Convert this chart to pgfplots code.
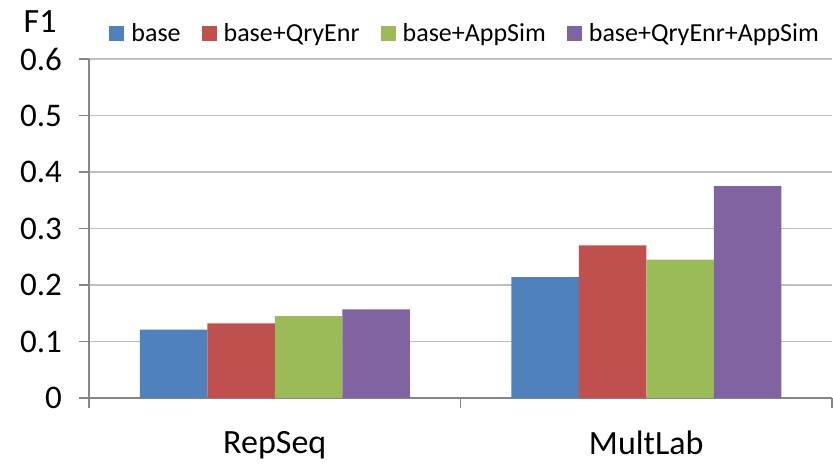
\documentclass[border=0pt]{standalone}
\usepackage{pgfplots}
\pgfplotsset{compat=1.18}
\usepackage{fontspec}
\setmainfont{Carlito}

\definecolor{cblue}{HTML}{4F81BD}
\definecolor{cred}{HTML}{C0504D}
\definecolor{cgreen}{HTML}{9BBB59}
\definecolor{cpurple}{HTML}{8064A2}
\definecolor{gridc}{HTML}{BFBFBF}
\definecolor{axisc}{HTML}{868686}

% x: 0 = RepSeq, 1 = MultLab
\pgfplotstableread{
x  base   qry    app    both
0  0.121  0.132  0.145  0.157
1  0.214  0.270  0.245  0.375
}\fone

\begin{document}
\begin{tikzpicture}
\begin{axis}[
    name=ax,
    scale only axis,
    width=371.5pt, height=169.5pt,
    xmin=-0.5, xmax=1.5,
    ymin=0, ymax=0.6,
    ytick={0,0.1,...,0.6},
    yticklabels={0,0.1,0.2,0.3,0.4,0.5,0.6},
    xtick={0,1},
    xticklabels={RepSeq,MultLab},
    minor xtick={-0.5,0.5,1.5},
    major x tick style={draw=none},
    minor x tick style={draw=axisc, line width=0.75pt},
    minor tick length=5pt,
    y tick style={draw=axisc, line width=0.75pt},
    major tick length=5pt,
    tick align=outside,
    axis x line*=bottom,
    axis y line*=left,
    axis line style={draw=axisc, line width=0.75pt, -},
    ymajorgrids,
    grid style={draw=gridc, line width=0.75pt},
    ybar=0pt,
    bar width=33.75pt,
    yticklabel style={font=\fontsize{16.5}{18}\selectfont, xshift=-5pt},
    xticklabel style={font=\fontsize{17}{19}\selectfont, yshift=-8pt},
    legend columns=4,
    legend style={
        at={([shift={(10pt,-1pt)}]rel axis cs:0,1.081)}, anchor=west,
        draw=none, fill=none, inner sep=0pt,
        font=\fontsize{13}{15}\selectfont,
        /tikz/every odd column/.append style={column sep=1.5pt},
        /tikz/every even column/.append style={column sep=8.5pt},
    },
    legend image code/.code={
        \fill[#1] (0pt,-3.75pt) rectangle (7.5pt,3.75pt);
    },
    clip=false,
]
\addplot[fill=cblue, draw=none] table[x=x, y=base] {\fone};
\addplot[fill=cred, draw=none] table[x=x, y=qry] {\fone};
\addplot[fill=cgreen, draw=none] table[x=x, y=app] {\fone};
\addplot[fill=cpurple, draw=none] table[x=x, y=both] {\fone};
\legend{base, base+QryEnr, base+AppSim, base+QryEnr+AppSim}
\node[anchor=base east, font=\fontsize{17}{19}\selectfont, inner sep=0pt]
    at ([shift={(-16pt,13.5pt)}]rel axis cs:0,1) {F1};
\end{axis}
\node[anchor=base, font=\fontsize{16}{18}\selectfont, inner sep=0pt]
    at ([shift={(106.5pt,201pt)}]ax.south west) {(a)};
\pgfresetboundingbox
\path[use as bounding box] ([shift={(-44.5pt,-34pt)}]ax.south west)
    rectangle ([shift={(372pt,199pt)}]ax.south west);
\end{tikzpicture}
\end{document}
